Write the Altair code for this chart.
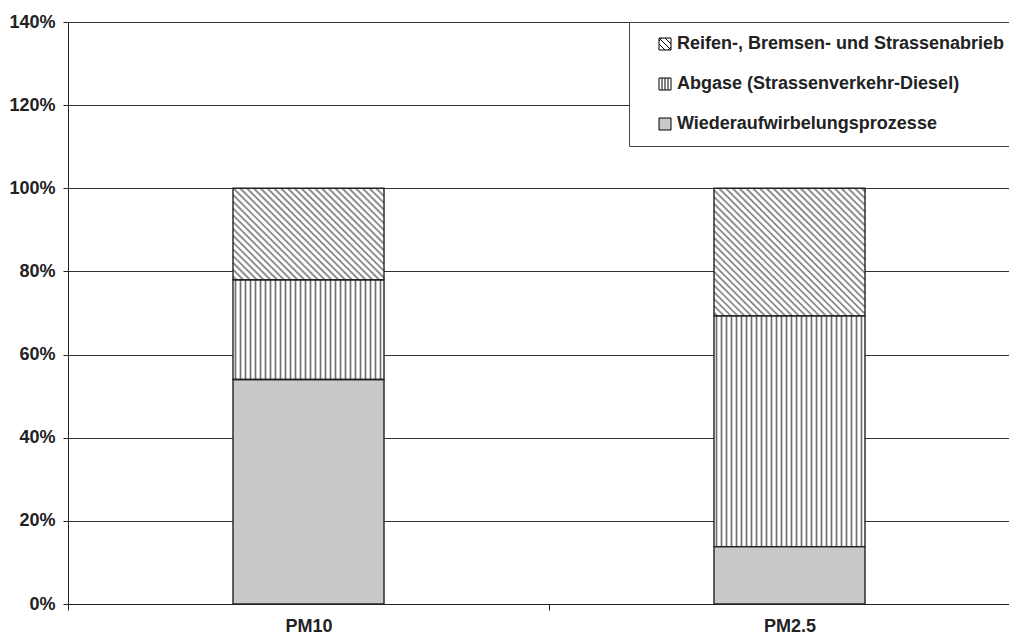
import altair as alt
import pandas as pd

# ---- data ----
categories = ["PM10", "PM2.5"]
sources = [
    "Wiederaufwirbelungsprozesse",
    "Abgase (Strassenverkehr-Diesel)",
    "Reifen-, Bremsen- und Strassenabrieb",
]
share_pm10 = [0.54, 0.24, 0.22]
share_pm25 = [0.138, 0.555, 0.307]
y_ticks = [0, 0.2, 0.4, 0.6, 0.8, 1.0, 1.2, 1.4]

# ---- layout constants ----
W, H = 941, 582
BAND_PX = 481
X_MAX = W / BAND_PX
Y_MAX = 1.4
KX = W / X_MAX
KY = H / Y_MAX
HALF = (151 / 2) / KX
DIAG_STEP = 6.8
VERT_STEP = 5.0
FONT = "Liberation Sans, Arial, Helvetica, sans-serif"

legend_order = sources[::-1]
legend_fill = ["white", "white", "#c8c9cb"]
legend_shapes = [
    "M-1,-1H1V1H-1Z M-1,-1L1,1 M-1,0L0,1 M0,-1L1,0 M-1,-0.5L-0.5,-1 M0.5,1L1,0.5",
    "M-1,-1H1V1H-1Z M-0.5,-1V1 M0,-1V1 M0.5,-1V1",
    "M-1,-1H1V1H-1Z",
]

rows = []
for i, (cat, vals) in enumerate(zip(categories, [share_pm10, share_pm25])):
    cum = 0.0
    for src, v in zip(sources, vals):
        rows.append(dict(cat=cat, source=src, xc=i + 0.5, x0=i + 0.5 - HALF,
                         x1=i + 0.5 + HALF, y0=cum, y1=cum + v, ym=cum + v / 2))
        cum += v
seg = pd.DataFrame(rows)

# hatch lines derived from the segments
lines = []
for r in rows:
    wr = (r["x1"] - r["x0"]) * KX
    hr = (r["y1"] - r["y0"]) * KY
    if r["source"] == sources[2]:
        c = -hr + (DIAG_STEP / 2)
        while c < wr:
            ua, ub = max(0.0, c), min(wr, c + hr)
            if ub > ua:
                lines.append(dict(kind="diag",
                                  xa=r["x0"] + ua / KX, ya=r["y1"] - (ua - c) / KY,
                                  xb=r["x0"] + ub / KX, yb=r["y1"] - (ub - c) / KY))
            c += DIAG_STEP
    elif r["source"] == sources[1]:
        u = VERT_STEP / 2
        while u < wr - 0.5:
            lines.append(dict(kind="vert", xa=r["x0"] + u / KX, ya=r["y0"],
                              xb=r["x0"] + u / KX, yb=r["y1"]))
            u += VERT_STEP
hatch = pd.DataFrame(lines)

xs = alt.Scale(domain=[0, X_MAX], nice=False, zero=False)
ys = alt.Scale(domain=[0, Y_MAX], nice=False)

x_axis = alt.Axis(
    values=[0, 0.5, 1, 1.5],
    labelExpr="datum.value == 0.5 ? 'PM10' : (datum.value == 1.5 ? 'PM2.5' : '')",
    tickOpacity={"condition": {"test": "datum.value % 1 == 0", "value": 1}, "value": 0},
    tickSize=6, labelPadding=7, labelOverlap=False, grid=False, title=None,
    labelFontSize=18, labelFontWeight="bold", labelColor="#222",
    domainColor="#222", tickColor="#222", labelFlush=False,
)
y_axis = alt.Axis(
    values=y_ticks, format=".0%", title=None, grid=True, gridColor="#333",
    gridWidth=1, tickSize=5, tickColor="#222", domainColor="#222",
    labelPadding=8, labelFontSize=18, labelFontWeight="bold", labelColor="#222",
)

# hidden points beneath bars supply the legend
legend_pts = alt.Chart(seg).mark_point(filled=True, stroke="black", strokeWidth=1, opacity=1).encode(
    x=alt.X("xc:Q", scale=xs, axis=x_axis),
    y=alt.Y("ym:Q", scale=ys, axis=y_axis),
    color=alt.Color("source:N", title=" ", sort=legend_order,
                    scale=alt.Scale(domain=legend_order, range=legend_fill),
                    legend=alt.Legend(
                        orient="none", legendX=561, legendY=0, direction="vertical",
                        titleOrient="left", titleFontSize=1, titlePadding=14,
                        padding=13, rowPadding=22, symbolSize=144,
                        symbolStrokeColor="black", symbolStrokeWidth=1,
                        labelFontSize=18, labelFontWeight="bold", labelColor="#222",
                        labelOffset=3, labelLimit=600,
                        strokeColor="#444", fillColor="white",
                    )),
    shape=alt.Shape("source:N", title=" ", sort=legend_order,
                    scale=alt.Scale(domain=legend_order, range=legend_shapes)),
)

fills = alt.Chart(seg).mark_rect().encode(
    x=alt.X("x0:Q", scale=xs), x2="x1:Q",
    y=alt.Y("y0:Q", scale=ys), y2="y1:Q",
    fill=alt.Fill("source:N", scale=alt.Scale(domain=sources, range=["#c8c9cb", "white", "white"]),
                  legend=None),
)

diag = alt.Chart(hatch).transform_filter("datum.kind == 'diag'").mark_rule(
    color="#8e8e8e", strokeWidth=1.9
).encode(x=alt.X("xa:Q", scale=xs), x2="xb:Q", y=alt.Y("ya:Q", scale=ys), y2="yb:Q")

vert = alt.Chart(hatch).transform_filter("datum.kind == 'vert'").mark_rule(
    color="#707070", strokeWidth=1.7
).encode(x=alt.X("xa:Q", scale=xs), x2="xb:Q", y=alt.Y("ya:Q", scale=ys), y2="yb:Q")

outlines = alt.Chart(seg).mark_rect(filled=False, color="#222", strokeWidth=1.4).encode(
    x=alt.X("x0:Q", scale=xs), x2="x1:Q",
    y=alt.Y("y0:Q", scale=ys), y2="y1:Q",
)

chart = alt.layer(legend_pts, fills, diag, vert, outlines).properties(
    width=W, height=H,
    autosize=alt.AutoSizeParams(type="none"),
    padding={"left": 60, "top": 14, "right": 0, "bottom": 32},
).configure_view(stroke=None).configure(
    font=FONT
).configure_axis(labelFont=FONT).configure_legend(labelFont=FONT)

chart.save("out.html", embed_options={"renderer": "svg", "actions": False})
